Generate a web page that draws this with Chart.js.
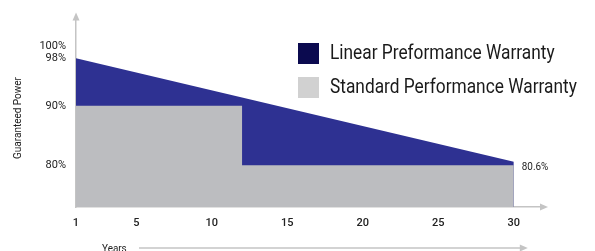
<!DOCTYPE html>
<html>
<head>
<meta charset="utf-8">
<script src="https://cdn.jsdelivr.net/npm/chart.js@4"></script>
<style>
  html, body { margin: 0; padding: 0; background: #fff; }
  #warrantyChart { display: block; }
</style>
</head>
<body>
<canvas id="warrantyChart" width="595" height="251"></canvas>
<script>
// chart values
var seriesNames = ['Linear Preformance Warranty', 'Standard Performance Warranty'];
var linearYears = [1, 30];
var linearPower = [98, 80.6];
var standardYears = [1, 12, 12, 30];
var standardPower = [90, 90, 80, 80];
var yearTicks = [1, 5, 10, 15, 20, 25, 30];
var powerTicks = [80, 90, 98, 100];
var endLabel = '80.6%';

var FONT = "Roboto, 'DejaVu Sans', sans-serif";
var legendColors = ['#0b0a4f', '#d1d1d1'];

function toPoints(xs, ys) {
    return xs.map(function(x, i) { return { x: x, y: ys[i] }; });
}

// the reference uses a condensed face, squeeze text horizontally
function narrowText(ctx, text, x, y, sx) {
    ctx.save();
    ctx.translate(x, y);
    ctx.scale(sx, 1);
    ctx.fillText(text, 0, 0);
    ctx.restore();
}

// arrows, axis titles, end label and legend
var extras = {
    id: 'extras',
    afterDraw: function(chart) {
        var ctx = chart.ctx;
        var area = chart.chartArea;
        var xs = chart.scales.x, ys = chart.scales.y;
        ctx.save();
        ctx.fillStyle = '#c4c4c4';
        // y axis arrow
        ctx.beginPath();
        ctx.moveTo(area.left, area.top - 4);
        ctx.lineTo(area.left - 3.5, area.top + 4);
        ctx.lineTo(area.left + 3.5, area.top + 4);
        ctx.fill();
        // x axis arrow
        ctx.beginPath();
        ctx.moveTo(area.right + 4, area.bottom);
        ctx.lineTo(area.right - 4, area.bottom - 3.5);
        ctx.lineTo(area.right - 4, area.bottom + 3.5);
        ctx.fill();

        // end value label
        ctx.fillStyle = '#222';
        ctx.font = '11px ' + FONT;
        ctx.textBaseline = 'middle';
        ctx.textAlign = 'left';
        var last = linearPower.length - 1;
        narrowText(ctx, endLabel, xs.getPixelForValue(linearYears[last]) + 8,
            ys.getPixelForValue(linearPower[last]) + 5, 0.9);

        // y title
        ctx.save();
        ctx.font = '10.5px ' + FONT;
        ctx.textAlign = 'center';
        ctx.translate(18, 118);
        ctx.rotate(-Math.PI / 2);
        ctx.scale(0.95, 1);
        ctx.fillText('Guaranteed Power', 0, 0);
        ctx.restore();

        // "Years" with arrow
        ctx.font = '11px ' + FONT;
        ctx.textBaseline = 'top';
        narrowText(ctx, 'Years', area.left + 26, area.bottom + 37, 0.9);
        var ay = area.bottom + 41;
        var ax2 = xs.getPixelForValue(30) + 10;
        ctx.strokeStyle = '#c4c4c4';
        ctx.lineWidth = 1.5;
        ctx.beginPath();
        ctx.moveTo(area.left + 63, ay);
        ctx.lineTo(ax2, ay);
        ctx.stroke();
        ctx.fillStyle = '#c4c4c4';
        ctx.beginPath();
        ctx.moveTo(ax2 + 4, ay);
        ctx.lineTo(ax2 - 4, ay - 3.5);
        ctx.lineTo(ax2 - 4, ay + 3.5);
        ctx.fill();

        // legend
        ctx.font = '20px ' + FONT;
        ctx.textBaseline = 'middle';
        chart.data.datasets.slice().reverse().forEach(function(ds, i) {
            var by = 43 + i * 34;
            ctx.fillStyle = legendColors[i];
            ctx.fillRect(298, by, 21, 21);
            ctx.fillStyle = '#1a1a1a';
            narrowText(ctx, ds.label, 330, by + 11, 0.865);
        });
        ctx.restore();
    }
};

var ctx = document.getElementById('warrantyChart').getContext('2d');
var warrantyChart = new Chart(ctx, {
    type: 'line',
    data: {
        datasets: [{
            label: seriesNames[1],
            data: toPoints(standardYears, standardPower),
            backgroundColor: '#bcbdc0',
            borderWidth: 0,
            pointRadius: 0,
            fill: 'start'
        }, {
            label: seriesNames[0],
            data: toPoints(linearYears, linearPower),
            backgroundColor: '#2e3192',
            borderWidth: 0,
            pointRadius: 0,
            fill: 'start'
        }]
    },
    options: {
        responsive: false,
        animation: false,
        layout: { padding: { top: 12, right: 51, left: 0, bottom: 0 } },
        plugins: {
            legend: { display: false },
            tooltip: { enabled: false }
        },
        scales: {
            x: {
                type: 'linear',
                min: 1,
                max: 32,
                afterBuildTicks: function(scale) {
                    scale.ticks = yearTicks.map(function(v) { return { value: v }; });
                },
                afterFit: function(scale) { scale.height = 44; },
                grid: { display: false, drawTicks: false },
                border: { color: '#c4c4c4', width: 1.5 },
                ticks: {
                    autoSkip: false,
                    maxRotation: 0,
                    padding: 10,
                    color: '#222',
                    font: { family: FONT, size: 11, weight: '500' }
                }
            },
            y: {
                min: 73,
                max: 105,
                afterBuildTicks: function(scale) {
                    scale.ticks = powerTicks.map(function(v) { return { value: v }; });
                },
                afterFit: function(scale) { scale.width = 76; },
                grid: { display: false, drawTicks: false },
                border: { color: '#c4c4c4', width: 1.5 },
                ticks: {
                    autoSkip: false,
                    padding: 10,
                    color: '#222',
                    font: { family: FONT, size: 11 },
                    callback: function(v) { return v + '%'; }
                }
            }
        }
    },
    plugins: [extras]
});
</script>
</body>
</html>
